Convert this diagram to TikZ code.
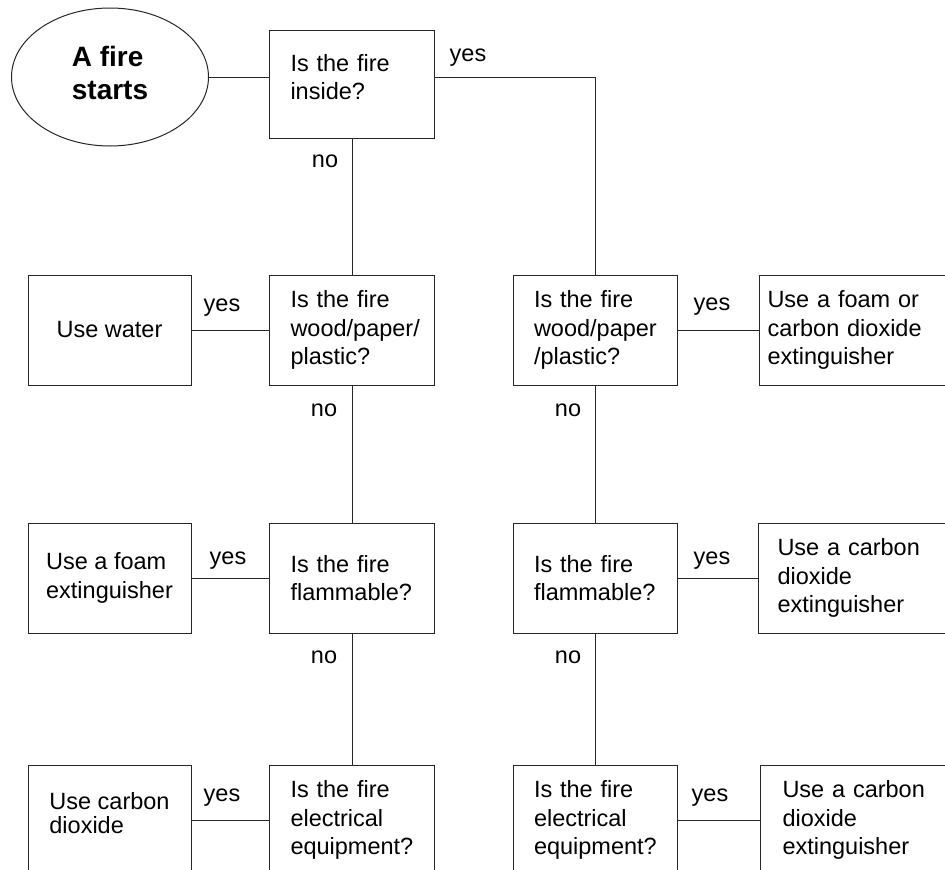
\documentclass[tikz,border=0pt]{standalone}
\usepackage{fontspec}
\setmainfont{Liberation Sans}
\usetikzlibrary{shapes.geometric}

\begin{document}
\begin{tikzpicture}[x=1pt,y=-1pt,
                txt/.style={font=\fontsize{23.5}{28.5}\selectfont},
                startnode/.style={draw=black!85,line width=1pt,ellipse,inner sep=0pt,minimum width=197pt,minimum height=138pt,align=left,font=\bfseries\fontsize{28}{33}\selectfont},
                qbox/.style={txt,draw=black!85,line width=1pt,rectangle,text width=123pt,inner xsep=21pt,minimum height=110pt,align=left},
                abox/.style={txt,draw=black!85,line width=1pt,rectangle,minimum width=163pt,minimum height=110pt,align=left},
                rbox/.style={txt,draw=black!85,line width=1pt,rectangle,text width=200pt,minimum height=110pt,align=left,anchor=west},
                lbl/.style={txt,inner sep=0pt},
                conn/.style={draw=black!85,line width=1pt}]
                \useasboundingbox (0,0) rectangle (945,870);
                \clip (0,0) rectangle (945,870);
                \node[startnode,text depth=8pt] (start) at (110,77) {A fire\\starts};
                \node[qbox,minimum height=108pt,text height=3pt] (q1) at (352,84) {Is the fire\\inside?};
                \node[qbox] (q2) at (352,330) {Is the fire\\wood/paper/\\plastic?};
                \node[qbox] (q3) at (352,578) {Is the fire\\flammable?};
                \node[qbox] (q4) at (352,820) {Is the fire\\electrical\\equipment?};
                \node[abox] (a2) at (109.5,330) {Use water};
                \node[abox] (a3) at (109.5,578) {Use a foam\\extinguisher};
                \node[abox,font=\fontsize{23.5}{24}\selectfont,text depth=15pt] (a4) at (109.5,820) {Use carbon\\dioxide};
                \node[qbox,text width=122pt] (r2) at (595,330) {Is the fire\\wood/paper\\/plastic?};
                \node[qbox,text width=122pt] (r3) at (595,578) {Is the fire\\flammable?};
                \node[qbox,text width=122pt] (r4) at (595,820) {Is the fire\\electrical\\equipment?};
                \node[rbox,inner xsep=8pt] (ra2) at (759,330) {Use a foam or\\carbon dioxide\\extinguisher};
                \node[rbox,inner xsep=19pt] (ra3) at (758,578) {Use a carbon\\dioxide\\extinguisher};
                \node[rbox,inner xsep=22pt] (ra4) at (760,820) {Use a carbon\\dioxide\\extinguisher};
                \node[lbl] (yes1) at (468,58) {yes};
                \node[lbl] (yes2) at (222,308) {yes};
                \node[lbl] (yes3) at (228,561) {yes};
                \node[lbl] (yes4) at (222,798) {yes};
                \node[lbl] (yes5) at (712,307) {yes};
                \node[lbl] (yes6) at (712,561) {yes};
                \node[lbl] (yes7) at (710,798) {yes};
                \node[lbl] (no1) at (325,161) {no};
                \node[lbl] (no2) at (324,410) {no};
                \node[lbl] (no3) at (324,657) {no};
                \node[lbl] (no4) at (568,410) {no};
                \node[lbl] (no5) at (568,657) {no};
                \draw[conn] (start.east) -- (start.east -| q1.west);
                \draw[conn] (start.east -| q1.east) -| (r2.north);
                \draw[conn] (q1) -- (q2);
                \draw[conn] (q2) -- (q3);
                \draw[conn] (q3) -- (q4);
                \draw[conn] (r2) -- (r3);
                \draw[conn] (r3) -- (r4);
                \draw[conn] (q2) -- (a2);
                \draw[conn] (q3) -- (a3);
                \draw[conn] (q4) -- (a4);
                \draw[conn] (r2) -- (ra2);
                \draw[conn] (r3) -- (ra3);
                \draw[conn] (r4) -- (ra4);
\end{tikzpicture}
\end{document}
